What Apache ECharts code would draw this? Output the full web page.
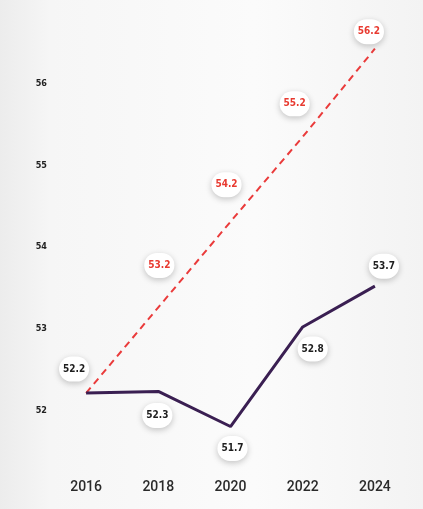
<!DOCTYPE html>
<html>
<head>
<meta charset="utf-8">
<script src="https://cdn.jsdelivr.net/npm/echarts@6/dist/echarts.min.js"></script>
<style>
html,body{margin:0;padding:0;background:#f8f8f8;}
#chart{width:423px;height:509px;}
</style>
</head>
<body>
<div id="chart"></div>
<script>
// Categories (years)
const years = ['2016', '2018', '2020', '2022', '2024'];
// Actual series: values as read from plotted positions
const actualValues = [52.21, 52.23, 51.80, 53.02, 53.52];
// Actual series: label text printed on the chart
const actualLabels = ['52.2', '52.3', '51.7', '52.8', '53.7'];
// Target (dashed) series: values as read from plotted positions
const targetValues = [52.21, 53.26, 54.31, 55.35, 56.43];
// Target series: label text printed on the chart ('' = no badge)
const targetLabels = ['', '53.2', '54.2', '55.2', '56.2'];
// Y-axis tick labels shown
const yTicks = [52, 53, 54, 55, 56];

// label badge offsets (style only)
const actualOffsets = [[-12, -24], [-1, 24], [2, 22], [10, 22], [9, -20]];
const targetOffsets = [[0, 0], [1, -42], [-4, -37], [-8, -33], [-6, -17]];

const condensedFamily = '"DejaVu Sans Condensed", "Liberation Sans Narrow", sans-serif';

const badgeBase = {
  show: true,
  position: 'inside',
  backgroundColor: '#ffffff',
  borderRadius: 14,
  padding: [8, 4, 7, 4],
  fontFamily: condensedFamily,
  fontWeight: 'bold',
  fontSize: 10,
  shadowColor: 'rgba(0,0,0,0.22)',
  shadowBlur: 6,
  shadowOffsetY: 2
};

const chart = echarts.init(document.getElementById('chart'), null, {renderer: 'canvas'});
chart.setOption({
  backgroundColor: {
    type: 'linear', x: 0, y: 0, x2: 1, y2: 0,
    colorStops: [
      {offset: 0, color: '#ececec'},
      {offset: 0.12, color: '#f6f6f6'},
      {offset: 0.6, color: '#fbfbfb'},
      {offset: 1, color: '#f3f3f3'}
    ]
  },
  animation: false,
  grid: {left: 50, right: 12, top: 43, bottom: 58},
  xAxis: {
    type: 'category',
    data: years,
    boundaryGap: true,
    axisLine: {show: false},
    axisTick: {show: false},
    axisLabel: {
      margin: 29,
      color: '#2a2a2a',
      fontFamily: 'Roboto, sans-serif',
      fontWeight: 500,
      fontSize: 14
    }
  },
  yAxis: {
    type: 'value',
    min: 51.5,
    max: 56.5,
    interval: 0.5,
    axisLine: {show: false},
    axisTick: {show: false},
    splitLine: {show: false},
    axisLabel: {
      margin: 3,
      color: '#222',
      fontWeight: 'bold',
      fontFamily: condensedFamily,
      fontSize: 9,
      formatter: v => (yTicks.indexOf(v) >= 0 ? String(v) : '')
    }
  },
  series: [
    {
      name: 'Target',
      type: 'line',
      data: targetValues.map((v, i) => (targetLabels[i] ? v : {value: v, label: {show: false}})),
      showSymbol: true,
      symbol: 'circle',
      symbolSize: 2,
      itemStyle: {color: 'rgba(234,59,59,0)'},
      label: Object.assign({}, badgeBase, {
        color: '#e83a30',
        formatter: p => targetLabels[p.dataIndex]
      }),
      labelLayout: p => {
        const o = targetOffsets[p.dataIndex];
        return {dx: o[0], dy: o[1]};
      },
      lineStyle: {color: '#ea3b3b', width: 2, type: [7, 5]},
      z: 2
    },
    {
      name: 'Actual',
      type: 'line',
      data: actualValues,
      showSymbol: true,
      symbol: 'circle',
      symbolSize: 2,
      itemStyle: {color: 'rgba(58,31,82,0)'},
      label: Object.assign({}, badgeBase, {
        color: '#1e1e1e',
        formatter: p => actualLabels[p.dataIndex]
      }),
      labelLayout: p => {
        const o = actualOffsets[p.dataIndex];
        return {dx: o[0], dy: o[1]};
      },
      lineStyle: {color: '#3a1f52', width: 3},
      z: 3
    }
  ]
});
</script>
</body>
</html>
